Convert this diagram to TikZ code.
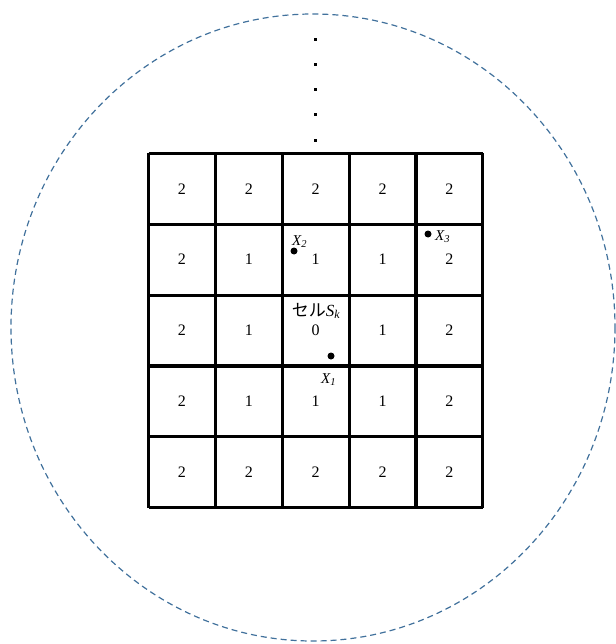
\documentclass[tikz,border=0pt]{standalone}
\usepackage{fontspec}
\setmainfont{Liberation Serif}
\newfontfamily\jpfont{Noto Sans CJK JP}
\definecolor{circblue}{RGB}{65,113,156}
\begin{document}
\begin{tikzpicture}[x=1pt,y=-1pt,
  gridline/.style={line width=3.2pt},
  cellval/.style={font=\fontsize{16}{16}\selectfont, inner sep=0pt},
  ptdot/.style={circle, fill=black, inner sep=0pt, minimum size=7pt},
  sqdot/.style={rectangle, fill=black, inner sep=0pt, minimum size=3pt},
  lbl/.style={font=\fontsize{15}{15}\selectfont\itshape, inner sep=0pt}]
\useasboundingbox (0,0) rectangle (615,644);
% outer dashed circle
\draw[circblue, line width=1.2pt, dash pattern=on 6pt off 4pt] (313,327.5) ellipse [x radius=302, y radius=313.5];
% vertical dots
\foreach \yy [count=\i] in {40,65,90,115,140.5}
  \node[sqdot] (d\i) at (315,\yy) {};
% grid
\foreach \xx in {148.5,215.4,282.2,349.1,416,482.8}
  \draw[gridline] (\xx,153.3) -- (\xx,507.7);
\foreach \yy in {153.3,224.2,295.1,366,436.8,507.7}
  \draw[gridline] (148.5,\yy) -- (482.8,\yy);
% cell values
\foreach \row [count=\r] in {{2,2,2,2,2},{2,1,1,1,2},{2,1,0,1,2},{2,1,1,1,2},{2,2,2,2,2}}{
  \foreach \v [count=\c] in \row {
    \pgfmathsetmacro{\cx}{148.5+66.86*(\c-0.5)}
    \pgfmathsetmacro{\cy}{153.3+70.88*(\r-0.5)}
    \node[cellval] (v\r\c) at (\cx,\cy) {\v};
  }
}
% points
\node[ptdot] (p2) at (294,251) {};
\node[lbl, anchor=base west] (x2) at (292,245) {X\textsubscript{2}};
\node[ptdot] (p3) at (428,234) {};
\node[lbl, anchor=base west] (x3) at (435,240) {X\textsubscript{3}};
\node[ptdot] (p1) at (331,356) {};
\node[lbl, anchor=base west] (x1) at (321,383) {X\textsubscript{1}};
% cell label
\node[inner sep=0pt, anchor=base] (sk) at (316,316) {{\jpfont\fontsize{17}{17}\selectfont セル}{\fontsize{17}{17}\selectfont\itshape S\textsubscript{k}}};
\end{tikzpicture}
\end{document}
